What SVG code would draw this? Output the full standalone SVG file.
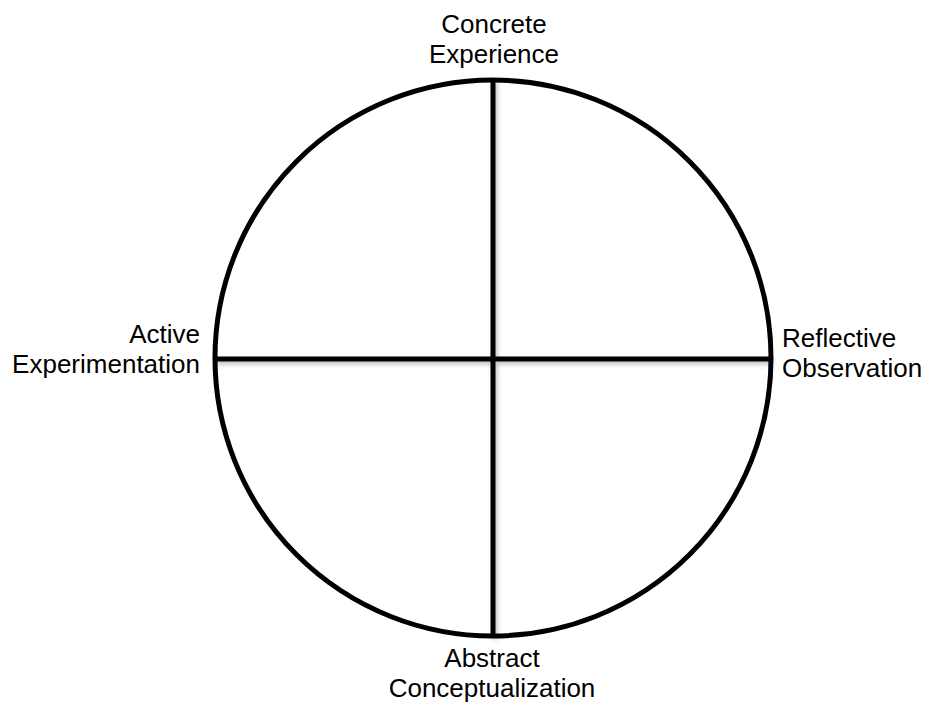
<svg xmlns="http://www.w3.org/2000/svg" width="928" height="705" viewBox="0 0 928 705">
<style>
  text { font-family: "Liberation Sans", Arial, sans-serif; font-size: 26px; fill: #000; }
  .axis { stroke: #000; stroke-width: 5; fill: none; }
</style>
<defs>
  <filter id="sh" x="-10%" y="-10%" width="120%" height="120%">
    <feDropShadow dx="2" dy="3" stdDeviation="2" flood-color="#000" flood-opacity="0.25"/>
  </filter>
</defs>
<rect width="928" height="705" fill="#fff"/>
<g id="circle">
  <circle cx="493" cy="358" r="278" fill="none" stroke="#000" stroke-width="5"/>
</g>
<g id="connectors" filter="url(#sh)">
  <line class="axis" x1="493" y1="80" x2="493" y2="636"/>
  <line class="axis" x1="215" y1="359" x2="771" y2="359"/>
</g>
<g id="concrete-experience">
  <text x="494" y="33" text-anchor="middle">Concrete</text>
  <text x="494" y="63" text-anchor="middle">Experience</text>
</g>
<g id="active-experimentation">
  <text x="200" y="343" text-anchor="end">Active</text>
  <text x="200" y="373" text-anchor="end">Experimentation</text>
</g>
<g id="reflective-observation">
  <text x="782" y="347" text-anchor="start">Reflective</text>
  <text x="782" y="377" text-anchor="start">Observation</text>
</g>
<g id="abstract-conceptualization">
  <text x="492" y="667" text-anchor="middle">Abstract</text>
  <text x="492" y="697" text-anchor="middle">Conceptualization</text>
</g>
</svg>
